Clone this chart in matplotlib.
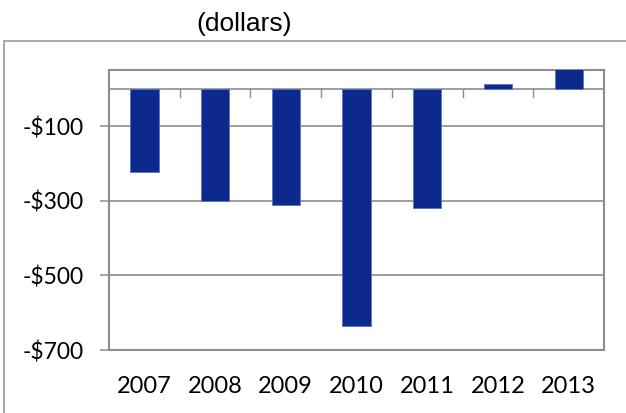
import matplotlib

matplotlib.use("Agg")
import matplotlib.pyplot as plt
from matplotlib.patches import Rectangle

years = ["2007", "2008", "2009", "2010", "2011", "2012", "2013"]
change = [-223, -302, -312, -637, -320, 12, 55]
y_ticks = [-100, -300, -500, -700]
y_labels = ["-$100", "-$300", "-$500", "-$700"]

BAR = "#0c2a8e"
GRID = "#8c8c8c"

fig = plt.figure(figsize=(6.26, 4.13), dpi=100)
ax = fig.add_axes([109 / 626, 1 - 350 / 413, 495 / 626, 280 / 413])

# outer chart frame, running off the right and bottom edges
fig.patches.append(
    Rectangle((4 / 626, -0.1), 1.2, 1 - 41 / 413 + 0.1, transform=fig.transFigure,
              fill=False, edgecolor="#9a9a9a", linewidth=1.2)
)

x = range(len(years))
ax.bar(x, change, width=0.4, color=BAR, edgecolor="#5a74c0", linewidth=0.6, zorder=3)

ax.set_xlim(-0.5, len(years) - 0.5)
ax.set_ylim(-700, 50)

ax.set_yticks(y_ticks, y_labels, family="Lato", fontsize=16.5)
ax.tick_params(axis="y", length=6.5, width=1.1, color=GRID, pad=12)
ax.grid(axis="y", color=GRID, linewidth=1.2, zorder=0)

ax.set_xticks(list(x), years, family="Lato", fontsize=17)
ax.tick_params(axis="x", length=0, pad=19)

# zero line with category separators hanging below it
ax.axhline(0, color=GRID, linewidth=1.2, zorder=2)
for b in range(1, len(years)):
    ax.plot([b - 0.5, b - 0.5], [0, -22], color=GRID, linewidth=1.0, zorder=2)

for s in ax.spines.values():
    s.set_color(GRID)
    s.set_linewidth(1.5)

fig.text(244 / 626, 1 - 24 / 413, "(dollars)", ha="center", va="center",
         family="Liberation Sans", fontsize=19)

fig.savefig("out.png", dpi=100)
